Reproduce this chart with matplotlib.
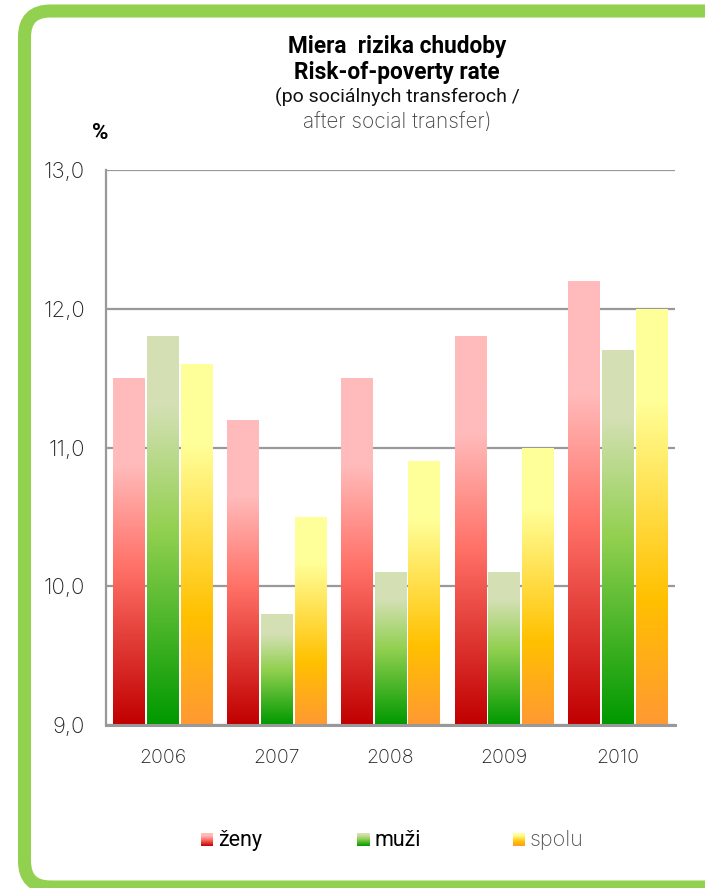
import matplotlib
matplotlib.use("Agg")
import matplotlib.pyplot as plt
import numpy as np
from matplotlib.colors import LinearSegmentedColormap
from matplotlib.patches import FancyBboxPatch
from matplotlib import font_manager

years = ["2006", "2007", "2008", "2009", "2010"]
zeny = [11.5, 11.2, 11.5, 11.8, 12.2]
muzi = [11.8, 9.8, 10.1, 10.1, 11.7]
spolu = [11.6, 10.5, 10.9, 11.0, 12.0]
series_names = ["ženy", "muži", "spolu"]
yticks = [9.0, 10.0, 11.0, 12.0, 13.0]

entries = font_manager.fontManager.ttflist
avail = {f.name for f in entries}


def pick(cands):
    for c in cands:
        if c in avail:
            return c
    return "DejaVu Sans"


main_font = pick(["Roboto", "Open Sans", "DejaVu Sans"])
light_candidates = [f.name for f in entries if f.weight in (300, "light") and f.name in ("Lato", "Open Sans", "Roboto", "Inter")]
light_font = light_candidates[0] if light_candidates else pick(["Lato", "Roboto", "Open Sans"])

grads = [
    LinearSegmentedColormap.from_list("r", [(0, "#C00000"), (0.45, "#FF7066"), (0.75, "#FFBBBB"), (1, "#FFBBBB")]),
    LinearSegmentedColormap.from_list("g", [(0, "#009900"), (0.5, "#92D050"), (0.82, "#D4E0B4"), (1, "#D4E0B4")]),
    LinearSegmentedColormap.from_list("y", [(0, "#FF9933"), (0.3, "#FFC000"), (0.78, "#FFFF99"), (1, "#FFFF99")]),
]

fig = plt.figure(figsize=(7.05, 8.88), dpi=100)
W, H = 705, 888

# green rounded frame drawn in pixel coordinates (y up)
bg = fig.add_axes([0, 0, 1, 1])
bg.set_xlim(0, W)
bg.set_ylim(0, H)
bg.set_axis_off()
frame = FancyBboxPatch((24.5, H - 887.0), 760, 876.0,
                       boxstyle="round,pad=0,rounding_size=26",
                       facecolor="none", edgecolor="#92D050", linewidth=9.4, clip_on=False)
bg.add_patch(frame)

ax = fig.add_axes([106 / W, 1 - 725 / H, (675 - 106) / W, (725 - 170) / H])
ax.set_ylim(9.0, 13.0)
ax.set_xlim(-0.5, 4.5)

x = np.arange(len(years))
bw = 0.28
step = 0.297
grad_img = np.linspace(0, 1, 256).reshape(-1, 1)
for i, vals in enumerate([zeny, muzi, spolu]):
    bars = ax.bar(x + (i - 1) * step, np.array(vals) - 9.0, bw, bottom=9.0,
                  facecolor="none", edgecolor="none", zorder=3)
    for b in bars:
        x0, y0 = b.get_x(), b.get_y()
        w, h = b.get_width(), b.get_height()
        im = ax.imshow(grad_img, cmap=grads[i], origin="lower", aspect="auto",
                       extent=[x0, x0 + w, y0, y0 + h], zorder=3, interpolation="bilinear")
        im.set_clip_path(b)

ax.set_yticks(yticks)
ax.set_yticklabels([f"{v:.1f}".replace(".", ",") for v in yticks],
                   fontsize=16, color="#222222", family=[light_font, "DejaVu Sans"], fontweight="light")
ax.set_xticks(x)
ax.set_xticklabels(years, fontsize=14, color="#222222", family=[light_font, "DejaVu Sans"], fontweight="light")
ax.tick_params(axis="y", length=0, pad=15)
ax.tick_params(axis="x", length=0, pad=17)
ax.grid(axis="y", color="#999999", linewidth=1.6, zorder=1)
ax.set_axisbelow(True)
for s in ["top", "right"]:
    ax.spines[s].set_visible(False)
ax.spines["left"].set_color("#999999")
ax.spines["left"].set_linewidth(1.6)
ax.spines["bottom"].set_color("#999999")
ax.spines["bottom"].set_linewidth(2.2)
ax.spines["bottom"].set_zorder(4)

# title
tx = 397 / W
fig.text(tx, 1 - 47 / H, "Miera  rizika chudoby", ha="center", va="center",
         fontsize=16.3, fontweight="bold", family=[main_font, "DejaVu Sans"])
fig.text(tx, 1 - 72 / H, "Risk-of-poverty rate", ha="center", va="center",
         fontsize=16.3, fontweight="bold", family=[main_font, "DejaVu Sans"])
fig.text(tx, 1 - 97 / H, "(po sociálnych transferoch /", ha="center", va="center",
         fontsize=14, family=[main_font, "DejaVu Sans"], color="#111111")
fig.text(tx, 1 - 122 / H, "after social transfer)", ha="center", va="center",
         fontsize=15, family=[light_font, "DejaVu Sans"], fontweight="light", color="#444444")
fig.text(100 / W, 1 - 133 / H, "%", ha="center", va="center",
         fontsize=16, fontweight="bold", family=[main_font, "DejaVu Sans"])

# legend
leg_x = [201, 357, 513]
leg_colors = ["#000000", "#000000", "#555555"]
leg_w = ["normal", "normal", "light"]
leg_f = [main_font, main_font, light_font]
for i, name in enumerate(series_names):
    lx = leg_x[i] / W
    ly = 1 - 846 / H
    lax = fig.add_axes([lx, ly, 12 / W, 13 / H])
    lax.imshow(grad_img, cmap=grads[i], origin="lower", aspect="auto", extent=[0, 1, 0, 1])
    lax.set_axis_off()
    fig.text((leg_x[i] + 17) / W, 1 - 840 / H, name, ha="left", va="center",
             fontsize=15.5, color=leg_colors[i], family=[leg_f[i], "DejaVu Sans"], fontweight=leg_w[i])

fig.savefig("out.png", dpi=100)
